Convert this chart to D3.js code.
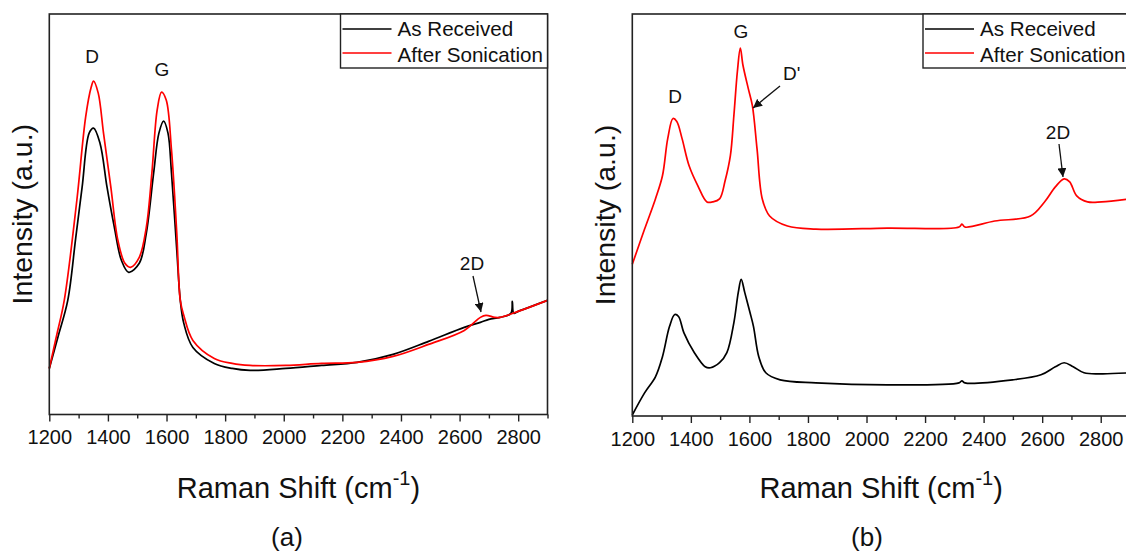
<!DOCTYPE html>
<html>
<head>
<meta charset="utf-8">
<script src="https://cdn.jsdelivr.net/npm/d3@7"></script>
<style>
  body { margin: 0; background: #fff; }
  svg { display: block; font-family: 'Liberation Sans', Arial, sans-serif; }
</style>
</head>
<body>
<div id="chart"></div>
<script>
// Raman shift (cm-1) and intensity (a.u.)

// (a) As Received
const shiftA_recv = [1200, 1230, 1263, 1290, 1312, 1336, 1351, 1373, 1397, 1422, 1446, 1471, 1507, 1531, 1556, 1574, 1590, 1605, 1617, 1635, 1647, 1659, 1690, 1763, 1824, 1885, 2007, 2129, 2250, 2373, 2494, 2616, 2671, 2700, 2738, 2775, 2780, 2785, 2800, 2900]
const intA_recv = [46, 78, 114, 176, 227, 281, 286, 271, 227, 187, 154, 142, 151, 181, 241, 281, 293, 281, 241, 164, 114, 91, 67, 51, 46, 44, 46, 49, 52, 60, 73, 87, 92, 95, 97, 101, 113, 101, 103, 114]

// (a) After Sonication
const shiftA_son = [1200, 1225, 1251, 1294, 1324, 1343, 1351, 1367, 1385, 1410, 1434, 1458, 1477, 1507, 1531, 1550, 1568, 1583, 1599, 1617, 1635, 1647, 1659, 1690, 1763, 1824, 1885, 2007, 2129, 2250, 2373, 2494, 2616, 2671, 2690, 2720, 2738, 2800, 2900]
const intA_son = [46, 79, 114, 214, 297, 327, 333, 321, 281, 227, 174, 151, 147, 157, 187, 241, 304, 322, 314, 264, 181, 114, 99, 74, 56, 51, 49, 49, 51, 52, 58, 70, 84, 97, 99, 97, 97, 103, 114]

// (b) As Received
const shiftB_recv = [1200, 1242, 1279, 1303, 1327, 1345, 1358, 1376, 1412, 1449, 1467, 1498, 1523, 1547, 1562, 1572, 1584, 1602, 1614, 1632, 1656, 1705, 1827, 2071, 2316, 2326, 2336, 2499, 2596, 2645, 2675, 2706, 2743, 2803, 2900]
const intB_recv = [1, 23, 39, 59, 89, 101, 99, 83, 63, 49, 48, 53, 63, 93, 123, 136, 123, 103, 89, 59, 43, 36, 33, 31, 33, 35, 33, 36, 41, 49, 53, 49, 43, 42, 43]

// (b) After Sonication
const shiftB_son = [1200, 1242, 1279, 1303, 1321, 1339, 1352, 1370, 1394, 1424, 1455, 1474, 1498, 1517, 1535, 1547, 1559, 1569, 1578, 1596, 1610, 1626, 1644, 1669, 1730, 1827, 2071, 2316, 2326, 2336, 2438, 2560, 2608, 2645, 2675, 2694, 2718, 2755, 2803, 2900]
const intB_son = [151, 186, 216, 239, 276, 296, 293, 276, 249, 229, 213, 213, 216, 234, 259, 299, 343, 366, 349, 326, 309, 266, 216, 199, 189, 186, 187, 188, 191, 188, 194, 199, 213, 228, 236, 233, 219, 213, 213, 216]

const majorTicks = [1200, 1400, 1600, 1800, 2000, 2200, 2400, 2600, 2800]
const minorTicks = d3.range(1300, 2901, 200)
const legendNames = ['As Received', 'After Sonication']
const colors = ['#000000', '#ff0000']

const svg = d3
  .select('#chart')
  .append('svg')
  .attr('width', 1126)
  .attr('height', 551)

svg.append('rect').attr('width', 1126).attr('height', 551).attr('fill', '#fff')

const defs = svg.append('defs')
defs
  .append('marker')
  .attr('id', 'arrow')
  .attr('viewBox', '0 0 10 10')
  .attr('refX', 10)
  .attr('refY', 5)
  .attr('markerWidth', 9)
  .attr('markerHeight', 9)
  .attr('markerUnits', 'userSpaceOnUse')
  .attr('orient', 'auto')
  .append('path')
  .attr('d', 'M0,0 L10,5 L0,10 Z')
  .attr('fill', '#111')

function zip(xs, ys) {
  return xs.map((x, i) => ({ x: x, y: ys[i] }))
}

function drawPanel(p) {
  const g = svg.append('g')

  const x = d3.scaleLinear().domain([1200, 2900]).range([p.left, p.right])
  const y = d3.scaleLinear().domain([0, 400]).range([p.bottom, p.top])

  const line = d3
    .line()
    .x(d => x(d.x))
    .y(d => y(d.y))
    .curve(d3.curveCatmullRom.alpha(0.5))

  p.series.forEach((s, i) => {
    g.append('path')
      .datum(zip(s[0], s[1]))
      .attr('d', line)
      .attr('fill', 'none')
      .attr('stroke', colors[i])
      .attr('stroke-width', 1.7)
      .attr('stroke-linejoin', 'round')
  })

  // minor ticks
  g.append('g')
    .attr('transform', 'translate(0,' + p.bottom + ')')
    .call(d3.axisBottom(x).tickValues(minorTicks).tickSize(4).tickFormat(''))
    .call(a => a.select('.domain').remove())
    .selectAll('line')
    .attr('stroke', '#222')
    .attr('stroke-width', 1.4)

  // major ticks
  const xAxis = g
    .append('g')
    .attr('transform', 'translate(0,' + p.bottom + ')')
    .call(d3.axisBottom(x).tickValues(majorTicks).tickSize(7).tickPadding(8.5).tickFormat(d3.format('d')))
  xAxis.select('.domain').remove()
  xAxis.selectAll('line').attr('stroke', '#222').attr('stroke-width', 1.4)
  xAxis
    .selectAll('text')
    .attr('fill', '#111')
    .style('font-size', '20px')
    .style('font-family', "'Liberation Sans', Arial, sans-serif")

  // frame
  g.append('rect')
    .attr('x', p.left)
    .attr('y', p.top)
    .attr('width', p.right - p.left)
    .attr('height', p.bottom - p.top)
    .attr('fill', 'none')
    .attr('stroke', '#222')
    .attr('stroke-width', 1.6)

  // legend
  const lg = g.append('g').attr('transform', 'translate(' + (p.right - 207) + ',' + p.top + ')')
  lg.append('rect')
    .attr('width', 207)
    .attr('height', 54)
    .attr('fill', '#fff')
    .attr('stroke', '#222')
    .attr('stroke-width', 1.4)
  legendNames.forEach((name, i) => {
    lg.append('line')
      .attr('x1', 2)
      .attr('x2', 51)
      .attr('y1', 15 + i * 24)
      .attr('y2', 15 + i * 24)
      .attr('stroke', colors[i])
      .attr('stroke-width', 1.7)
    lg.append('text')
      .attr('x', 57)
      .attr('y', 22 + i * 25.5)
      .attr('fill', '#111')
      .style('font-size', '20.6px')
      .text(name)
  })

  // peak labels and arrows
  p.labels.forEach(l => {
    g.append('text')
      .attr('x', l.x)
      .attr('y', l.y)
      .attr('text-anchor', l.anchor || 'middle')
      .attr('fill', '#111')
      .style('font-size', '19px')
      .text(l.text)
  })
  p.arrows.forEach(a => {
    g.append('line')
      .attr('x1', a[0])
      .attr('y1', a[1])
      .attr('x2', a[2])
      .attr('y2', a[3])
      .attr('stroke', '#111')
      .attr('stroke-width', 1.3)
      .attr('marker-end', 'url(#arrow)')
  })

  // axis titles
  const cx = (p.left + p.right) / 2
  svg.append('text')
    .attr('transform', 'translate(' + p.yLabelX + ',' + (p.top + p.bottom) / 2 + ') rotate(-90)')
    .attr('text-anchor', 'middle')
    .attr('dominant-baseline', 'central')
    .attr('fill', '#111')
    .style('font-size', '28.5px')
    .text('Intensity (a.u.)')

  const xt = svg.append('text')
    .attr('x', cx)
    .attr('y', 498)
    .attr('text-anchor', 'middle')
    .attr('fill', '#111')
    .style('font-size', '29px')
  xt.append('tspan').text('Raman Shift (cm')
  xt.append('tspan').attr('dy', -13).style('font-size', '20px').text('-1')
  xt.append('tspan').attr('dy', 13).text(')')

  svg.append('text')
    .attr('x', p.capX)
    .attr('y', 546)
    .attr('text-anchor', 'middle')
    .attr('fill', '#111')
    .style('font-size', '26px')
    .text(p.caption)
}

drawPanel({
  left: 49.3,
  right: 547.5,
  top: 14,
  bottom: 414.5,
  yLabelX: 22,
  capX: 287,
  caption: '(a)',
  series: [[shiftA_recv, intA_recv], [shiftA_son, intA_son]],
  labels: [
    { text: 'D', x: 92, y: 63 },
    { text: 'G', x: 162, y: 76 },
    { text: '2D', x: 472, y: 270 }
  ],
  arrows: [[473, 276, 481, 312]]
})

drawPanel({
  left: 632.3,
  right: 1130,
  top: 14,
  bottom: 416,
  yLabelX: 605,
  capX: 867,
  caption: '(b)',
  series: [[shiftB_recv, intB_recv], [shiftB_son, intB_son]],
  labels: [
    { text: 'D', x: 675, y: 103 },
    { text: 'G', x: 741, y: 38 },
    { text: "D'", x: 783, y: 80, anchor: 'start' },
    { text: '2D', x: 1058, y: 139 }
  ],
  arrows: [[780, 86, 753, 108], [1059, 144, 1063, 177]]
})
</script>
</body>
</html>
